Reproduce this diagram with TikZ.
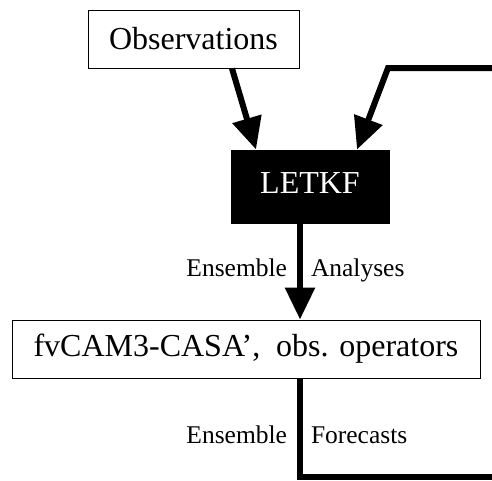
\documentclass[tikz,border=0pt]{standalone}
\usepackage{fontspec}
\setmainfont{Liberation Serif}
\usetikzlibrary{positioning,arrows.meta}

\begin{document}
\begin{tikzpicture}[
	box/.style={draw, line width=1pt, inner sep=0pt,
		font=\fontsize{32}{38}\selectfont},
	flow/.style={line width=6pt, -{Triangle[length=32pt, width=29pt]}},
	lbl/.style={inner sep=0pt, font=\fontsize{25.5}{30}\selectfont}]

	\useasboundingbox (0,0) rectangle (492pt,-480pt);

	\node [box, minimum width=211pt, minimum height=58pt]
	at (193.5pt,-39pt) (obs) {Observations};

		\node [box, fill=black, text=white, minimum width=158pt,
		minimum height=73pt, text depth=7pt,
		below=81pt of obs.south, xshift=116.5pt] (letkf) {LETKF\hspace{20pt}};

		\node [box, minimum width=468pt, minimum height=58pt,
		below=96pt of letkf.south, xshift=-64pt] (model)
		{fvCAM3-CASA’,\ \ obs. operators};

		\coordinate (feedin) at (492pt,-68pt);
		\coordinate (feedbend) at (388pt,-68pt);
		\coordinate (feedout) at (492pt,-477pt);
		\coordinate (feedcorner) at ([xshift=54pt]model.south |- feedout);

		\draw[flow] ([xshift=38.5pt]obs.south) -- ([xshift=-54pt]letkf.north);

		\draw[flow] (feedin) -- (feedbend) -- ([xshift=47pt]letkf.north);

		\draw[flow] ([xshift=-10pt]letkf.south) --
		node[lbl, pos=0.55, anchor=base east, xshift=-10pt]{Ensemble}
		node[lbl, pos=0.55, anchor=base west, xshift=8pt]{Analyses}
		([xshift=54pt]model.north);

		\draw[line width=6pt] ([xshift=54pt]model.south) --
		node[lbl, pos=0.657, anchor=base east, xshift=-10pt]{Ensemble}
		node[lbl, pos=0.657, anchor=base west, xshift=8pt]{Forecasts}
		(feedcorner) -- (feedout);

	\end{tikzpicture}
\end{document}
